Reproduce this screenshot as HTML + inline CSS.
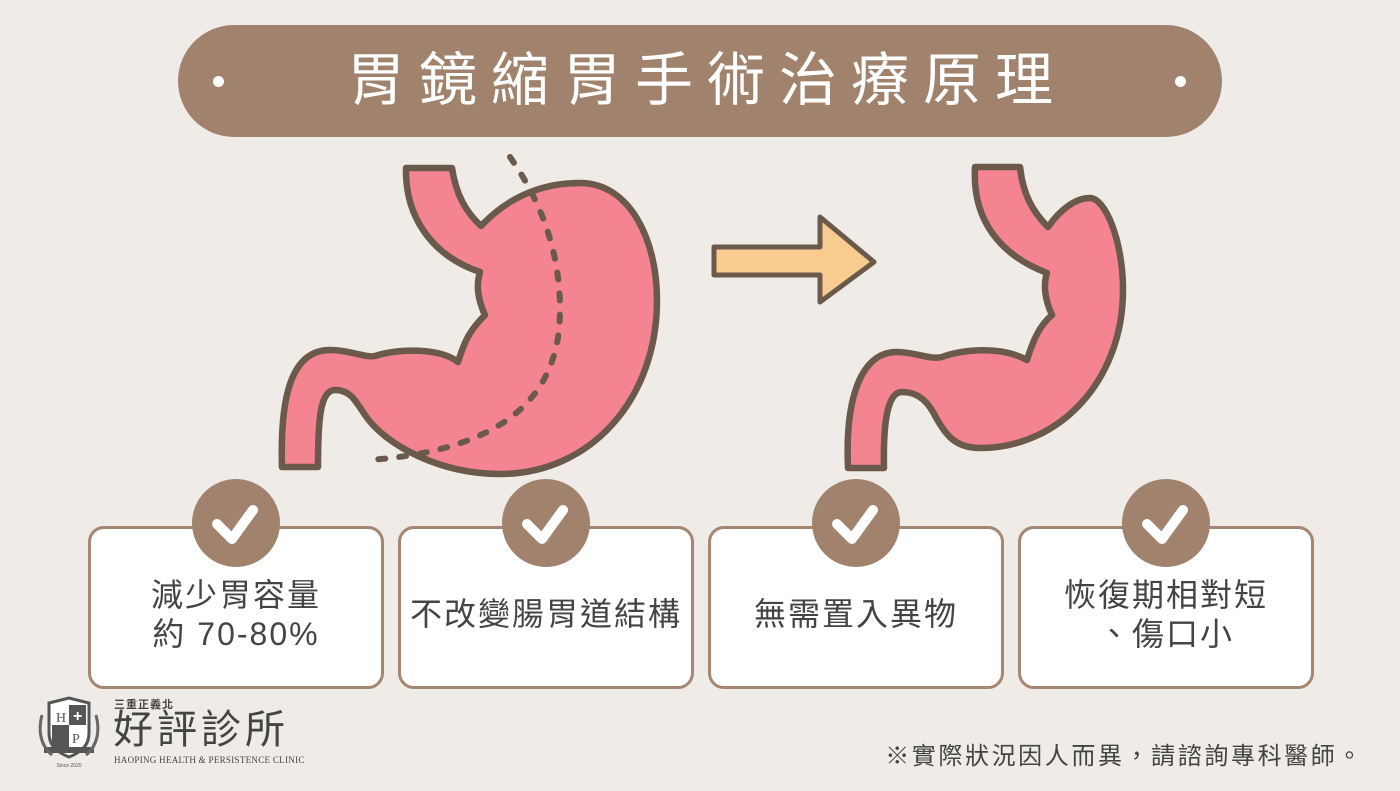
<!DOCTYPE html>
<html><head><meta charset="utf-8"><style>
body{margin:0;width:1400px;height:791px;background:#efebe6;overflow:hidden;position:relative;font-family:"Liberation Sans","Noto Sans CJK TC",sans-serif}
.card{position:absolute;top:526px;width:290px;height:157px;background:#fff;border:3px solid #a58672;border-radius:16px;box-sizing:content-box;display:flex;align-items:center;justify-content:center;text-align:center;font-size:32px;line-height:39px;color:#444}
.card span{margin-top:14px;letter-spacing:2px}
.chk{position:absolute;top:479px;width:88px;height:88px;border-radius:50%;background:#a0826d}
.chk svg{position:absolute;left:0;top:0}
</style></head><body>
<div style="position:absolute;left:178px;top:25px;width:1044px;height:112px;border-radius:56px;background:#a0826d"></div>
<div style="position:absolute;left:213px;top:76px;width:11px;height:11px;border-radius:50%;background:#fff"></div>
<div style="position:absolute;left:1175px;top:76px;width:11px;height:11px;border-radius:50%;background:#fff"></div>
<div style="position:absolute;left:178px;top:42px;width:1044px;text-align:center;color:#fff;font-size:58px;line-height:78px;letter-spacing:14px;padding-left:14px;box-sizing:border-box">胃鏡縮胃手術治療原理</div>

<svg width="1400" height="500" style="position:absolute;left:0;top:0" viewBox="0 0 1400 500">
<g fill="#f4848f" stroke="#6b5a4b" stroke-width="6.5" stroke-linejoin="round">
<path d="M406,168 L452,168 C456,195 466,212 481,226 C510,195 545,183 580,183 C630,183 657,240 657,300 C657,400 590,474 500,474 C440,474 385,445 365,415 C355,400 350,390 335,390 C320,390 318,420 318,467 L282,467 C280,400 290,350 330,350 C350,350 365,358 375,356 C400,348 440,348 458,362 C465,340 470,330 485,315 C478,300 476,285 480,272 C430,255 405,215 406,168 Z"/>
<path d="M975,167 L1020,167 C1023,195 1033,212 1048,227 C1060,210 1075,198 1090,198 C1105,198 1123,240 1123,290 C1123,380 1060,448 980,448 C955,448 945,435 933,412 C925,398 915,392 902,392 C888,392 883,420 884,468 L848,468 C845,400 860,352 897,352 C915,352 930,360 942,357 C960,350 1000,345 1027,360 C1033,340 1040,325 1052,315 C1045,300 1043,285 1047,273 C1000,255 972,220 975,167 Z"/>
</g>
<path d="M510,157 C540,200 560,250 560,310 C560,400 500,450 370,460" fill="none" stroke="#6b5a4b" stroke-width="6" stroke-linecap="round" stroke-dasharray="7 14"/>
<path d="M714,247 L820,247 L820,217 L874,262 L820,302 L820,275 L714,275 Z" fill="#f8cc8f" stroke="#6b5a4b" stroke-width="5" stroke-linejoin="round"/>
</svg>

<div class="card" style="left:88px"><span>減少胃容量<br>約 70-80%</span></div>
<div class="card" style="left:398px"><span>不改變腸胃道結構</span></div>
<div class="card" style="left:708px"><span>無需置入異物</span></div>
<div class="card" style="left:1018px"><span>恢復期相對短<br>、傷口小</span></div>

<div class="chk" style="left:192px"><svg width="88" height="88"><path d="M25,45 L40,60 L61,31" fill="none" stroke="#fff" stroke-width="10" stroke-linecap="round" stroke-linejoin="round"/></svg></div>
<div class="chk" style="left:502px"><svg width="88" height="88"><path d="M25,45 L40,60 L61,31" fill="none" stroke="#fff" stroke-width="10" stroke-linecap="round" stroke-linejoin="round"/></svg></div>
<div class="chk" style="left:812px"><svg width="88" height="88"><path d="M25,45 L40,60 L61,31" fill="none" stroke="#fff" stroke-width="10" stroke-linecap="round" stroke-linejoin="round"/></svg></div>
<div class="chk" style="left:1122px"><svg width="88" height="88"><path d="M25,45 L40,60 L61,31" fill="none" stroke="#fff" stroke-width="10" stroke-linecap="round" stroke-linejoin="round"/></svg></div>

<svg width="70" height="80" style="position:absolute;left:34px;top:695px" viewBox="0 0 70 80">
<path d="M15,8 L35,3 L55,8 L55,38 C55,52 45,58 35,62 C25,58 15,52 15,38 Z" fill="#fff" stroke="#555" stroke-width="3"/>
<rect x="35" y="10" width="17" height="20" fill="#555"/><rect x="18" y="30" width="17" height="22" fill="#555"/>
<text x="22" y="27" font-size="14" fill="#555" font-family="Liberation Serif">H</text>
<text x="38" y="48" font-size="14" fill="#555" font-family="Liberation Serif">P</text>
<text x="39" y="26" font-size="16" fill="#fff" font-weight="bold">+</text>
<rect x="10" y="52" width="50" height="6" fill="#555"/>
<path d="M8,20 C4,35 6,50 18,60 M62,20 C66,35 64,50 52,60" fill="none" stroke="#666" stroke-width="3"/>
<text x="35" y="72" font-size="5" fill="#555" text-anchor="middle">Since 2020</text>
</svg>
<div style="position:absolute;left:114px;top:696px;font-size:11px;color:#444;font-weight:bold;letter-spacing:1px">三重正義北</div>
<div style="position:absolute;left:113px;top:707px;font-size:40px;line-height:46px;color:#444;letter-spacing:4px">好評診所</div>
<div style="position:absolute;left:114px;top:755px;font-size:9px;color:#444;font-family:'Liberation Serif',serif;letter-spacing:0.3px">HAOPING HEALTH &amp; PERSISTENCE CLINIC</div>

<div style="position:absolute;right:36px;top:736px;font-size:24px;color:#444;letter-spacing:2.6px">※實際狀況因人而異，請諮詢專科醫師。</div>
</body></html>
